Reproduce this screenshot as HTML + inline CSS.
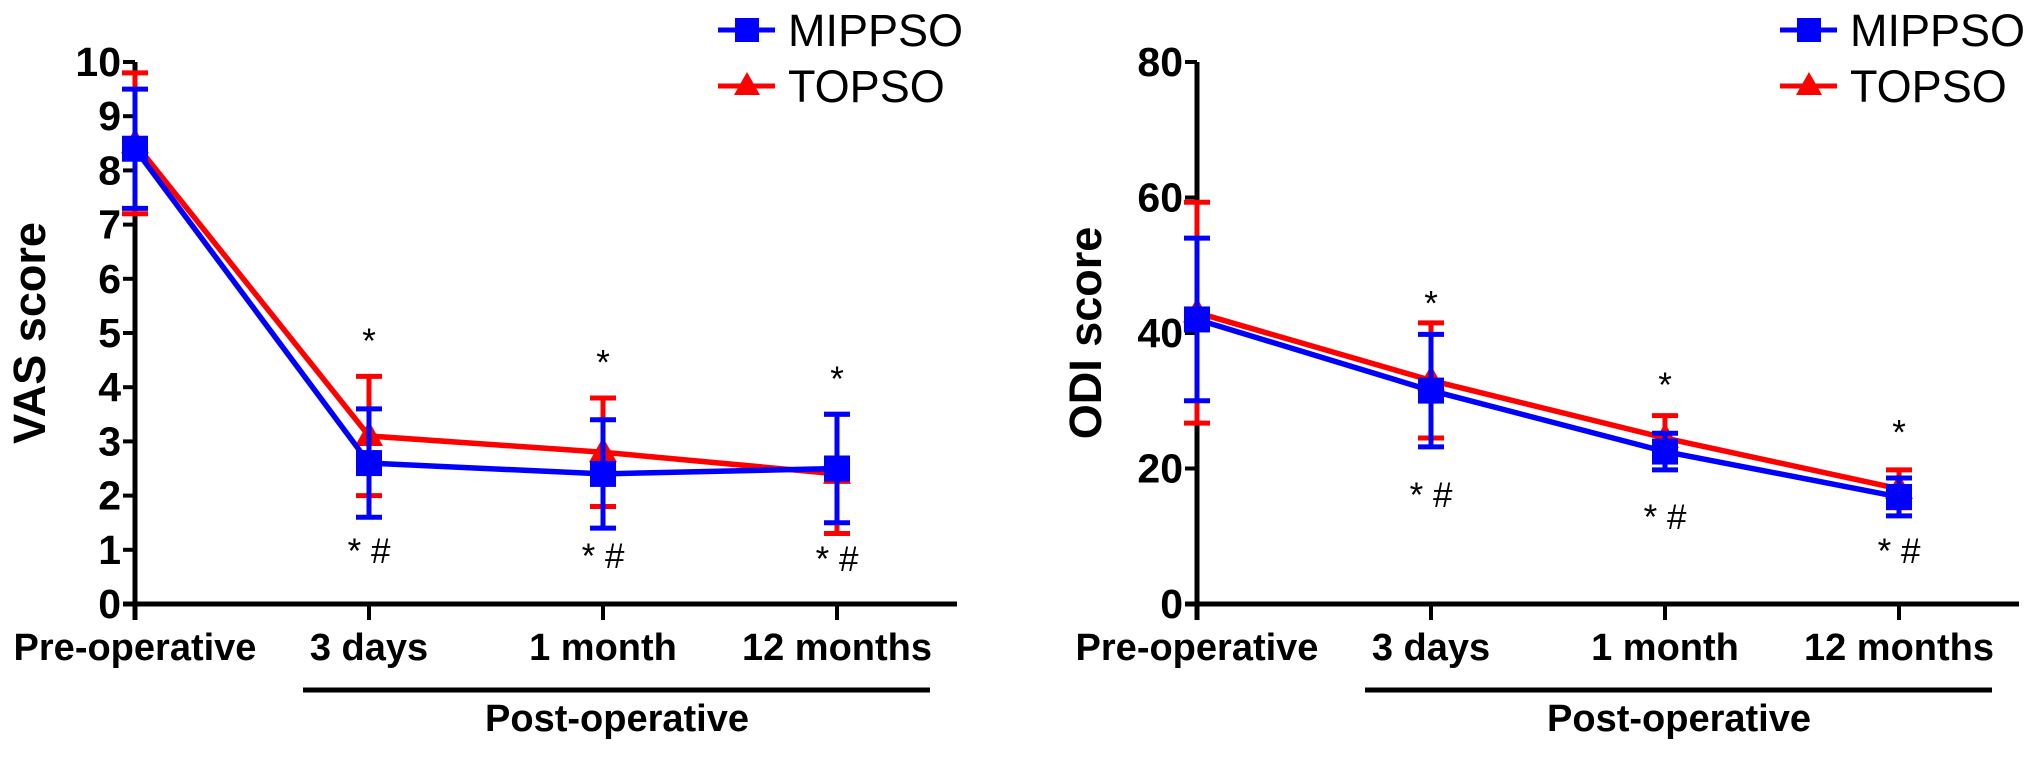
<!DOCTYPE html>
<html><head><meta charset="utf-8"><style>
html,body{margin:0;padding:0;background:#fff;}
svg{display:block;font-family:"Liberation Sans",Arial,sans-serif;}
</style></head><body>
<svg id="chart" width="2031" height="761" viewBox="0 0 2031 761"></svg>
<script>
const categories = ["Pre-operative","3 days","1 month","12 months"];
const vasTicks = [0,1,2,3,4,5,6,7,8,9,10];
const vasMippso = [8.4,2.6,2.4,2.5];
const vasMippsoErr = [1.1,1.0,1.0,1.0];
const vasTopso = [8.5,3.1,2.8,2.4];
const vasTopsoErr = [1.3,1.1,1.0,1.1];
const vasStarTop = [null,5.0,4.6,4.3];
const vasStarBottom = [null,1.0,0.9,0.85];
const odiTicks = [0,20,40,60,80];
const odiMippso = [42,31.5,22.5,15.8];
const odiMippsoErr = [12,8.3,2.7,2.8];
const odiTopso = [43,33,24.5,17];
const odiTopsoErr = [16.3,8.5,3.3,2.8];
const odiStarTop = [null,45.5,33.5,26.5];
const odiStarBottom = [null,16.2,13,8];

const NS="http://www.w3.org/2000/svg";
const svg=document.getElementById('chart');
function mk(tag,attrs,parent){const e=document.createElementNS(NS,tag);for(const k in attrs)e.setAttribute(k,attrs[k]);(parent||svg).appendChild(e);return e;}

function panel(cfg){
  const g=mk('g',{});
  
  
  const x0=cfg.x0, yTop=62, yBot=604, step=234;
  const ymax=cfg.ticks[cfg.ticks.length-1];
  const xS=i=>x0+i*step;
  const yS=v=>yBot-(v/ymax)*(yBot-yTop);
  const ya=mk('line',{x1:x0,y1:yTop,x2:x0,y2:yBot+16,stroke:'#000','stroke-width':5},g);
  
  const xa=mk('line',{x1:x0-12,y1:yBot,x2:x0+3*step+120,y2:yBot,stroke:'#000','stroke-width':5},g);
  
  cfg.ticks.forEach(t=>{
    const y=yS(t);
    mk('line',{x1:x0-12,y1:y,x2:x0,y2:y,stroke:'#000','stroke-width':4},g);
    const tx=mk('text',{x:x0-14,y:y+14,'text-anchor':'end','font-size':41,'font-weight':'bold'},g);
    tx.textContent=t;
    
    
  });
  categories.forEach((c,i)=>{
    mk('line',{x1:xS(i),y1:yBot,x2:xS(i),y2:yBot+16,stroke:'#000','stroke-width':4},g);
    const tx=mk('text',{x:xS(i),y:660,'text-anchor':'middle','font-size':38,'font-weight':'bold'},g);
    tx.textContent=c;
    
    
  });
  const ul=mk('line',{x1:x0+168,y1:690,x2:x0+795,y2:690,stroke:'#000','stroke-width':5},g);
  
  const po=mk('text',{x:x0+482,y:731,'text-anchor':'middle','font-size':38,'font-weight':'bold'},g);
  po.textContent='Post-operative';
  
  const yt=mk('text',{x:0,y:0,'text-anchor':'middle','font-size':45,'font-weight':'bold',transform:`translate(${cfg.titleX},333) rotate(-90)`},g);
  yt.textContent=cfg.title;
  

  function series(vals,errs,color,marker,nm){
    const sg=mk('g',{},g);
    
    vals.forEach((v,i)=>{
      const x=xS(i);
      mk('line',{x1:x,y1:yS(v+errs[i]),x2:x,y2:yS(v-errs[i]),stroke:color,'stroke-width':5},sg);
      [v+errs[i],v-errs[i]].forEach(e=>mk('line',{x1:x-13,y1:yS(e),x2:x+13,y2:yS(e),stroke:color,'stroke-width':5},sg));
    });
    const pts=vals.map((v,i)=>xS(i)+','+yS(v)).join(' ');
    const pl=mk('polyline',{points:pts,fill:'none',stroke:color,'stroke-width':5.5},sg);
    
    vals.forEach((v,i)=>{
      const x=xS(i),y=yS(v);
      let m;
      if(marker==='sq') m=mk('rect',{x:x-13,y:y-13,width:26,height:26,fill:color},sg);
      else m=mk('polygon',{points:`${x},${y-15} ${x-14},${y+10} ${x+14},${y+10}`,fill:color},sg);
      
    });
  }
  series(cfg.topso,cfg.topsoErr,'#ff0000','tri','topso-series');
  series(cfg.mippso,cfg.mippsoErr,'#0000ff','sq','mippso-series');
  categories.forEach((c,i)=>{
    if(cfg.starTop[i]!==null){
      const s=mk('text',{x:xS(i),y:yS(cfg.starTop[i])+20,'text-anchor':'middle','font-size':35},g);
      s.textContent='*';
      const s2=mk('text',{x:xS(i),y:yS(cfg.starBottom[i])+13,'text-anchor':'middle','font-size':35},g);
      s2.textContent='* #';
    }
  });
  const lx=x0+583;
  [['MIPPSO','#0000ff','sq',30],['TOPSO','#ff0000','tri',86]].forEach(([lab,col,mkr,y])=>{
    const lg=mk('g',{},g);
    
    mk('line',{x1:lx,y1:y,x2:lx+57,y2:y,stroke:col,'stroke-width':5},lg);
    const cx=lx+29;
    if(mkr==='sq') mk('rect',{x:cx-12,y:y-12,width:24,height:24,fill:col},lg);
    else mk('polygon',{points:`${cx},${y-14} ${cx-13},${y+9} ${cx+13},${y+9}`,fill:col},lg);
    const t=mk('text',{x:lx+70,y:y+16,'font-size':45},lg);
    t.textContent=lab;
  });
}
panel({name:'vas-chart',x0:135,ticks:vasTicks,title:'VAS score',titleX:45,mippso:vasMippso,mippsoErr:vasMippsoErr,topso:vasTopso,topsoErr:vasTopsoErr,starTop:vasStarTop,starBottom:vasStarBottom});
panel({name:'odi-chart',x0:1197,ticks:odiTicks,title:'ODI score',titleX:1101,mippso:odiMippso,mippsoErr:odiMippsoErr,topso:odiTopso,topsoErr:odiTopsoErr,starTop:odiStarTop,starBottom:odiStarBottom});
</script>
</body></html>
